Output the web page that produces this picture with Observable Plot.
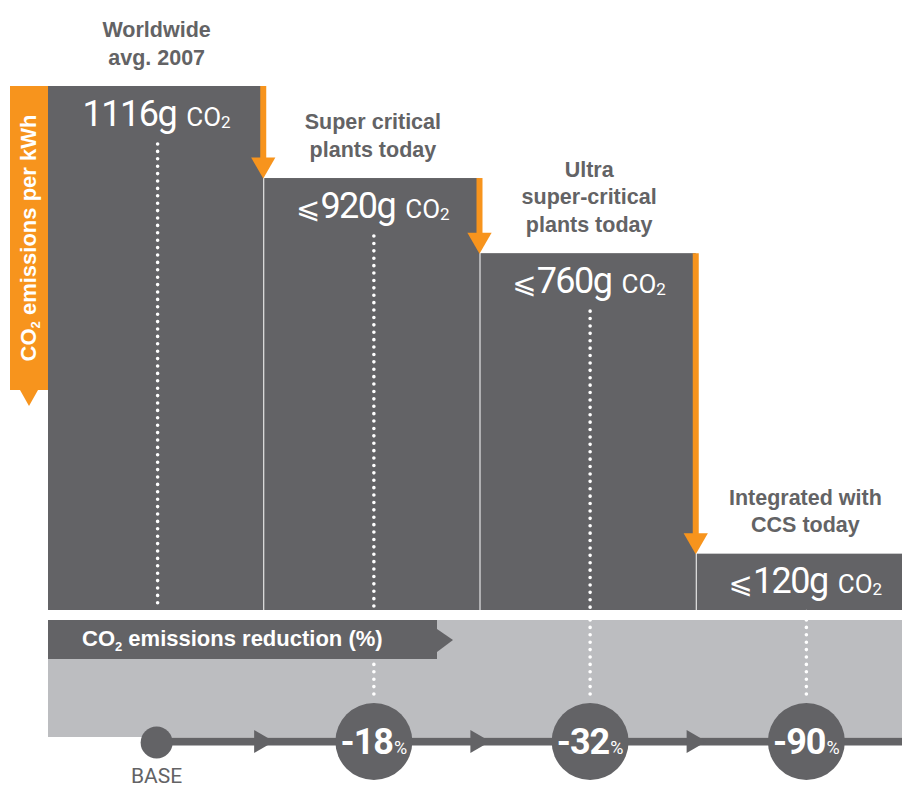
<!DOCTYPE html>
<html>
<head>
<meta charset="utf-8">
<script src="https://cdn.jsdelivr.net/npm/d3@7"></script>
<script src="https://cdn.jsdelivr.net/npm/@observablehq/plot@0.6"></script>
<style>
  html, body { margin: 0; padding: 0; background: #fff; overflow: hidden; }
  #chart { width: 902px; }
  #chart svg { display: block; }
</style>
</head>
<body>
<div id="chart"></div>
<script>
// ---------- data ----------
const categories = [
  "Worldwide\navg. 2007",
  "Super critical\nplants today",
  "Ultra\nsuper-critical\nplants today",
  "Integrated with\nCCS today"
];
const emissions = [1116, 920, 760, 120];          // g CO2 per kWh
const bounds = ["", "⩽", "⩽", "⩽"];             // prefix shown before value
const reductions = [0, -18, -32, -90];             // % vs. base
const baseLabel = "BASE";
const yAxisLabel = ["CO", "2", " emissions per kWh"];
const bannerLabel = ["CO", "2", " emissions reduction (%)"];

// ---------- styles ----------
const DARK = "#636366", ORANGE = "#f7941d", LIGHT = "#bcbdc0", TEXT = "#636365";
const SANS = "'Liberation Sans', Arial, Helvetica, sans-serif";
const NUM = "Roboto, 'Noto Sans', sans-serif";

const rows = categories.map((c, i) => ({i, category: c, value: emissions[i], bound: bounds[i], reduction: reductions[i]}));
const steps = rows.slice(0, -1).map((d, k) => ({i: k, from: d.value, to: rows[k + 1].value}));
const xScale = {type: "linear", domain: [0, categories.length], range: [48, 913], axis: null};

// rich value labels: "⩽920g CO₂"
function richValue(index, scales, values, dimensions, context, next) {
  const g = next(index, scales, values, dimensions, context);
  d3.select(g).selectAll("text").each(function(_, k) {
    const d = rows[index[k]];
    const t = d3.select(this).text(null);
    if (d.bound) t.append("tspan").attr("font-family", "'DejaVu Sans', sans-serif").attr("font-size", 29).text(d.bound);
    t.append("tspan").attr("letter-spacing", -1.5).text(d.value + "g");
    t.append("tspan").attr("font-size", 26).attr("dx", 10).text("CO");
    t.append("tspan").attr("font-size", 17).attr("dy", 2).text("2");
  });
  return g;
}

// rich percent labels: "-18%"
function richPct(index, scales, values, dimensions, context, next) {
  const g = next(index, scales, values, dimensions, context);
  const sub = rows.slice(1);
  d3.select(g).selectAll("text").each(function(_, k) {
    const d = sub[index[k]];
    const t = d3.select(this).text(null);
    t.append("tspan").attr("letter-spacing", -1).text(String(d.reduction));
    t.append("tspan").attr("font-size", 18).attr("font-weight", "normal").attr("dx", 1).text("%");
  });
  return g;
}

// y-axis title box (orange, rotated)
function axisLabelMark(index, scales) {
  const top = scales.y(d3.max(emissions));
  const bottom = 390;
  const g = d3.create("svg:g");
  g.append("rect").attr("x", 10).attr("y", top).attr("width", 38).attr("height", bottom - top).attr("fill", ORANGE);
  g.append("path").attr("d", `M20,${bottom}L38,${bottom}L29,${bottom + 16}Z`).attr("fill", ORANGE);
  const t = g.append("text")
    .attr("transform", `translate(36,${(top + bottom) / 2}) rotate(-90)`)
    .attr("text-anchor", "middle").attr("fill", "white")
    .attr("font-weight", "bold").attr("font-size", 22).attr("font-family", SANS);
  t.append("tspan").text(yAxisLabel[0]);
  t.append("tspan").attr("font-size", 13).attr("dy", 4).text(yAxisLabel[1]);
  t.append("tspan").attr("dy", -4).text(yAxisLabel[2]);
  return g.node();
}

// "CO₂ emissions reduction (%)" banner
function bannerMark(index, scales) {
  const x0 = scales.x(0);
  const x1 = 437;
  const g = d3.create("svg:g");
  g.append("rect").attr("x", x0).attr("y", 0).attr("width", x1 - x0).attr("height", 39).attr("fill", DARK);
  g.append("path").attr("d", `M${x1},9L${x1 + 16},20L${x1},32Z`).attr("fill", DARK);
  const t = g.append("text").attr("x", x0 + 34).attr("y", 26).attr("text-anchor", "start")
    .attr("fill", "white").attr("font-weight", "bold").attr("font-size", 22).attr("font-family", SANS);
  t.append("tspan").text(bannerLabel[0]);
  t.append("tspan").attr("font-size", 13).attr("dy", 5).text(bannerLabel[1]);
  t.append("tspan").attr("dy", -5).text(bannerLabel[2]);
  return g.node();
}

const topPlot = Plot.plot({
  width: 902, height: 620,
  marginTop: 86, marginBottom: 10, marginLeft: 48, marginRight: 0,
  x: xScale,
  y: {domain: [0, d3.max(emissions)], axis: null},
  marks: [
    axisLabelMark,
    Plot.rectY(rows, {x1: "i", x2: d => d.i + 1, y: "value", fill: DARK, insetRight: 1}),
    Plot.ruleX(rows, {x: d => d.i + 0.5, y1: "value", y2: 0, stroke: "white", strokeWidth: 3.6,
      strokeDasharray: "0 7.4", strokeLinecap: "round", insetTop: 58, dx: 1}),
    Plot.ruleX(steps, {x: d => d.i + 1, y1: "from", y2: "to", stroke: ORANGE, strokeWidth: 6, insetBottom: 16, dx: -1.5}),
    Plot.dot(steps, {x: d => d.i + 1, y: "to", symbol: "triangle", r: 9, rotate: 180, fill: ORANGE, dy: -14, dx: -1.5}),
    Plot.text(rows, {x: d => d.i + 0.5, y: "value", text: "category", lineAnchor: "bottom", dy: -22,
      fontSize: 21.5, fontWeight: "bold", fill: TEXT, fontFamily: SANS, lineHeight: 1.27}),
    Plot.text(rows, {x: d => d.i + 0.5, y: "value", text: d => `${d.bound}${d.value}g CO₂`, lineAnchor: "bottom",
      dy: 39, fontSize: 36, fill: "white", fontFamily: NUM, render: richValue})
  ]
});

const LINE_Y = 121;
const bottomPlot = Plot.plot({
  width: 902, height: 167,
  marginTop: 0, marginBottom: 0, marginLeft: 48, marginRight: 0,
  x: xScale,
  y: {domain: [0, 167], range: [0, 167], axis: null},
  marks: [
    Plot.rect([0], {x1: 0, x2: categories.length, y1: 0, y2: 117, fill: LIGHT}),
    Plot.ruleX(rows.slice(1), {x: d => d.i + 0.5, y1: 0, y2: 78, stroke: "white", strokeWidth: 3.6,
      strokeDasharray: "0 7.4", strokeLinecap: "round", dx: 1}),
    bannerMark,
    Plot.ruleY([LINE_Y], {x1: 0.5, x2: categories.length, stroke: DARK, strokeWidth: 8}),
    Plot.dot(rows.slice(1), {x: "i", y: LINE_Y, symbol: "triangle", r: 8.5, rotate: 90, fill: DARK, dx: -4}),
    Plot.dot(rows.slice(0, 1), {x: d => d.i + 0.5, y: LINE_Y + 1, r: 16, fill: DARK}),
    Plot.dot(rows.slice(1), {x: d => d.i + 0.5, y: LINE_Y, r: 38.5, fill: DARK, dx: 1}),
    Plot.text(rows.slice(1), {x: d => d.i + 0.5, y: LINE_Y + 12, text: d => `${d.reduction}%`, lineAnchor: "bottom",
      fontSize: 36, fontWeight: "bold", fill: "white", fontFamily: NUM, dx: 1, render: richPct}),
    Plot.text(rows.slice(0, 1), {x: d => d.i + 0.5, y: 162, text: () => baseLabel, lineAnchor: "bottom",
      fontSize: 21, fill: TEXT, fontFamily: NUM})
  ]
});

const chart = document.getElementById("chart");
chart.appendChild(topPlot);
chart.appendChild(bottomPlot);
</script>
</body>
</html>
